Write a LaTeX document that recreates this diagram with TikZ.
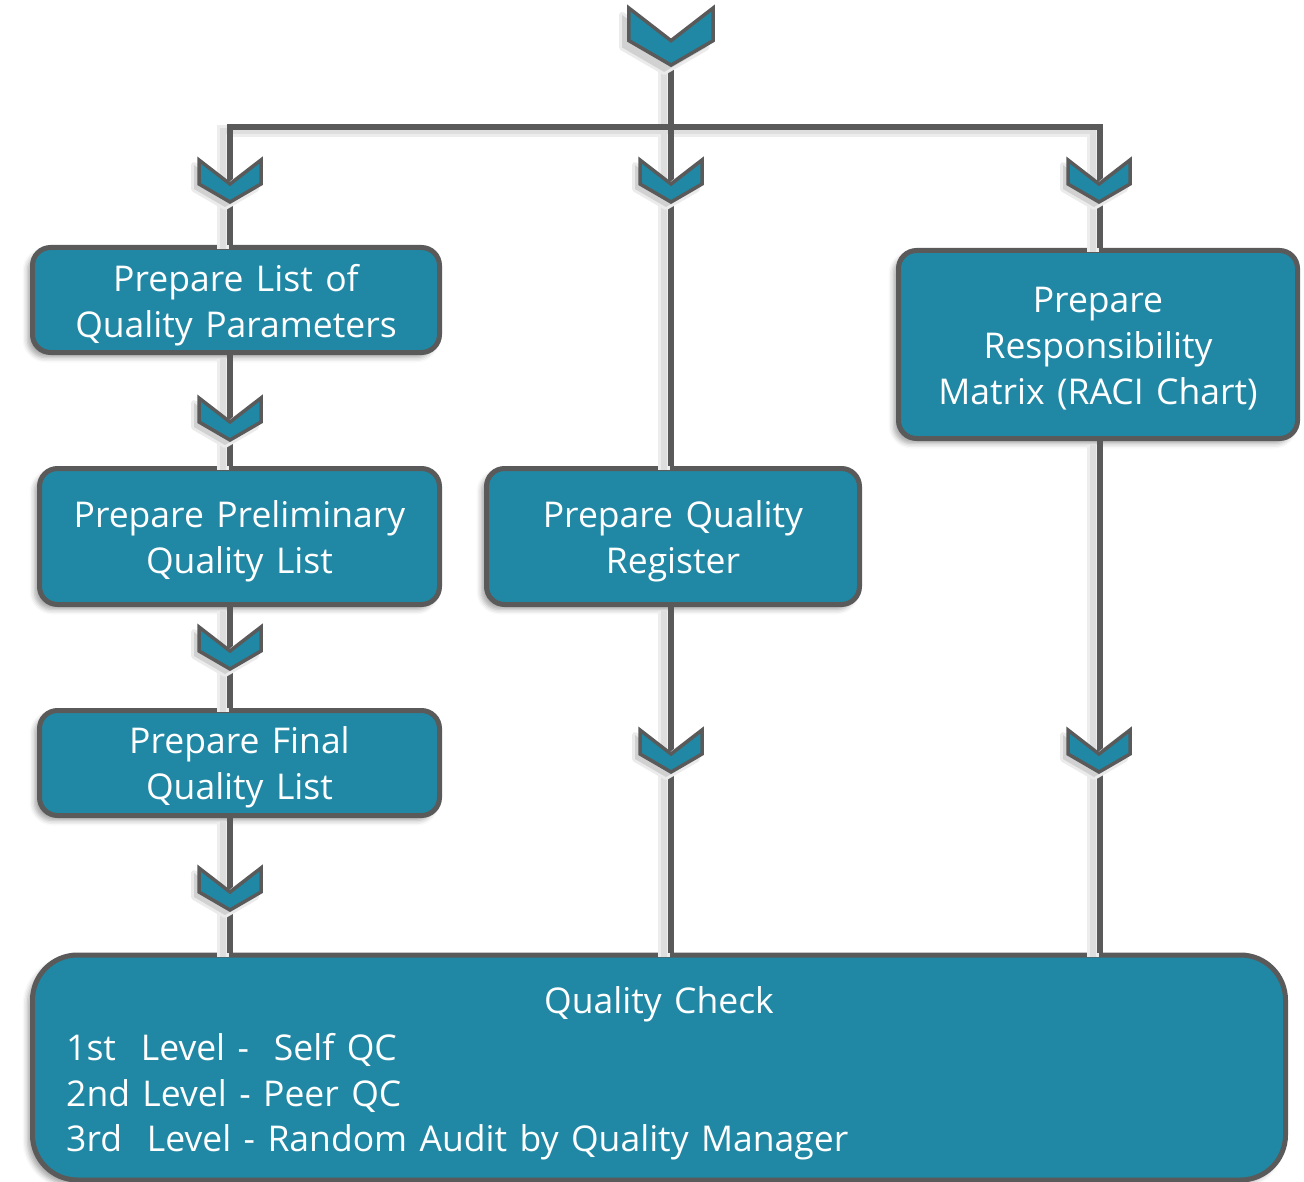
\documentclass[tikz,border=0pt]{standalone}
\usepackage{fontspec}
\setmainfont{Open Sans}[WordSpace=1.35]
\usetikzlibrary{shadows.blur}
\definecolor{boxfill}{HTML}{2088A4}
\definecolor{edge}{HTML}{5A5A5A}
\begin{document}
\begin{tikzpicture}[x=1pt,y=-1pt,
  txtfont/.style={font=\fontsize{35.5}{46}\selectfont},
  box/.style={draw=edge, line width=5pt, fill=boxfill, rounded corners=18pt,
    inner sep=0pt,
    blur shadow={shadow xshift=-5pt, shadow yshift=-5pt,
      shadow blur radius=5pt, shadow opacity=35}},
  boxtext/.style={text=white, inner sep=0pt, align=center, txtfont},
  link/.style={draw=edge, line width=5.5pt},
  linkshadeA/.style={draw=black!7, line width=12pt},
  linkshadeB/.style={draw=black!13, line width=6pt},
  chevstyle/.style={draw=edge, line width=3.5pt, fill=boxfill, line join=miter},
  chevshadeA/.style={draw=black!8, line width=6pt, fill=black!8, line join=round},
  chevshadeB/.style={fill=black!18},
  chevron/.pic={
    \path[chevshadeA, shift={(-5,5)}] (-31,0) -- (0,24) -- (31,0) -- (31,24)
      -- (0,42) -- (-31,24) -- cycle;
    \path[chevshadeB, shift={(-5,5)}] (-31,0) -- (0,24) -- (31,0) -- (31,24)
      -- (0,42) -- (-31,24) -- cycle;
    \path[chevstyle] (-31,0) -- (0,24) -- (31,0) -- (31,24)
      -- (0,42) -- (-31,24) -- cycle;}
]
\useasboundingbox (0,0) rectangle (1304,1182);

% branch points
\coordinate (start) at (671,40);
\coordinate (split) at (671,127);
\coordinate (colL) at (230,127);
\coordinate (colR) at (1100,127);

% process boxes
\node[box, minimum width=407pt, minimum height=105pt] (params) at (236,300) {};
\node[box, minimum width=400pt, minimum height=136pt] (prelim) at (239.5,536.5) {};
\node[box, minimum width=400pt, minimum height=105pt] (final) at (239.5,763) {};
\node[box, minimum width=373pt, minimum height=136pt] (register) at (673,536.5) {};
\node[box, minimum width=399pt, minimum height=188pt] (raci) at (1098,344.5) {};
\node[box, rounded corners=45pt, minimum width=1253pt, minimum height=225pt]
  (check) at (659,1067.5) {};

% soft shade under the connectors
\foreach \s in {linkshadeA,linkshadeB}{
  \draw[\s, shift={(-7,4)}] (671,60) -- (671,127);
  \draw[\s, shift={(-7,4)}] (230,245) -- (230,127) -- (1100,127) -- (1100,248);
  \draw[\s, shift={(-7,4)}] (671,127) -- (671,466);
  \draw[\s, shift={(-7,4)}] (230,355) -- (230,466);
  \draw[\s, shift={(-7,4)}] (230,607) -- (230,708);
  \draw[\s, shift={(-7,4)}] (230,818) -- (230,953);
  \draw[\s, shift={(-7,4)}] (671,607) -- (671,953);
  \draw[\s, shift={(-7,4)}] (1100,441) -- (1100,953);
}

% connectors
\draw[link] (start) -- (split);
\draw[link] (colL |- params.north) -- (colL) -- (colR) -- (colR |- raci.north);
\draw[link] (split) -- (split |- register.north);
\draw[link] (colL |- params.south) -- (colL |- prelim.north);
\draw[link] (colL |- prelim.south) -- (colL |- final.north);
\draw[link] (colL |- final.south) -- (colL |- check.north);
\draw[link] (split |- register.south) -- (split |- check.north);
\draw[link] (colR |- raci.south) -- (colR |- check.north);

% box texts
\node[boxtext] (paramstext) at ([yshift=-5pt]params.center)
  {Prepare List of\\Quality Parameters};
\node[boxtext] (prelimtext) at ([yshift=-5pt]prelim.center)
  {Prepare Preliminary\\Quality List};
\node[boxtext] (finaltext) at ([yshift=-4pt]final.center)
  {Prepare Final\\Quality List};
\node[boxtext] (registertext) at ([yshift=-5pt]register.center)
  {Prepare Quality\\Register};
\node[boxtext] (racitext) at ([yshift=-4pt]raci.center)
  {Prepare\\Responsibility\\Matrix (RACI Chart)};
\node[boxtext] (checktitle) at (659,1004) {Quality Check};
\node[boxtext, anchor=west] (lvl1) at (66,1050) {1st\ \ Level -\ \ Self QC};
\node[boxtext, anchor=west] (lvl2) at (66,1096) {2nd Level - Peer QC};
\node[boxtext, anchor=west] (lvl3) at (66,1142) {3rd\ \ Level - Random Audit by Quality Manager};

% flow chevrons
\pic[scale=1.36] at (671,8) {chevron};
\pic at (230,160) {chevron};
\pic at (671,160) {chevron};
\pic at (1099,160) {chevron};
\pic at (230,398) {chevron};
\pic at (230,627) {chevron};
\pic at (230,868) {chevron};
\pic at (671,730) {chevron};
\pic at (1099,730) {chevron};
\end{tikzpicture}
\end{document}
